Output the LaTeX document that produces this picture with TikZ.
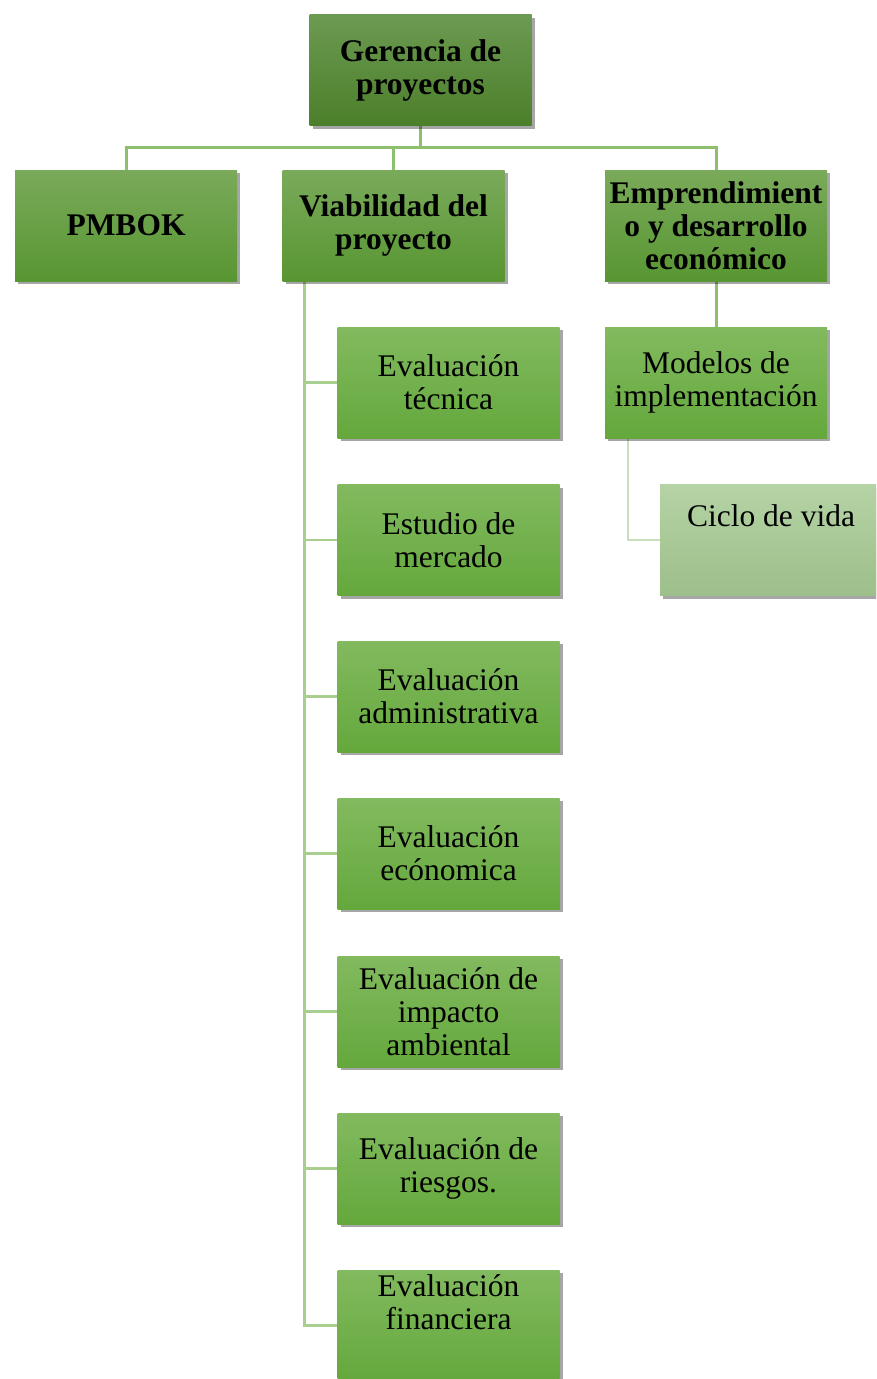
\documentclass[tikz,border=0pt]{standalone}
\usepackage{fontspec}
\setmainfont{Liberation Serif}
\usetikzlibrary{shadows,backgrounds}
\definecolor{topT}{HTML}{6C9A52}
\definecolor{topB}{HTML}{4C7F2A}
\definecolor{lvT}{HTML}{7AAA5A}
\definecolor{lvB}{HTML}{589632}
\definecolor{chT}{HTML}{82BA5F}
\definecolor{chB}{HTML}{64A83C}
\definecolor{ciT}{HTML}{B5D3A5}
\definecolor{ciB}{HTML}{9DBF8A}
\definecolor{lnA}{HTML}{8DBF6E}
\definecolor{lnB}{HTML}{A9CF8F}
\definecolor{lnC}{HTML}{CADFBE}
\tikzset{
  box/.style={draw=none, minimum width=222pt, minimum height=111pt, inner sep=0pt,
    align=center, font=\fontsize{31.5}{33}\selectfont,
    drop shadow={fill=black, opacity=0.35, shadow xshift=3pt, shadow yshift=-3pt}},
  topbox/.style={box, top color=topT, bottom color=topB, font=\fontsize{31.5}{33}\selectfont\bfseries},
  lvbox/.style={box, top color=lvT, bottom color=lvB, font=\fontsize{31.5}{33}\selectfont\bfseries},
  chbox/.style={box, top color=chT, bottom color=chB},
  cibox/.style={box, top color=ciT, bottom color=ciB},
  txt/.style={inner sep=0pt, align=center, font=\fontsize{31.5}{33}\selectfont},
  connA/.style={draw=lnA, line width=3pt},
  connB/.style={draw=lnB, line width=2.5pt},
  connC/.style={draw=lnC, line width=2.5pt}
}
\begin{document}
\begin{tikzpicture}[x=1pt,y=1pt]
\useasboundingbox (0,0) rectangle (876,-1379);
\clip (0,0) rectangle (876,-1379);
% nodes
\node[topbox] (top) at (420.5,-70) {Gerencia de\\proyectos};
\node[lvbox] (pmbok) at (126,-225.5) {PMBOK};
\node[lvbox] (viab) at (393.5,-225.5) {Viabilidad del\\proyecto};
\node[lvbox] (empr) at (716,-225.5) {Emprendimient\\o y desarrollo\\económico};
\node[chbox] (c1) at (448.5,-382.5) {Evaluación\\técnica};
\node[chbox] (c2) at (448.5,-540) {Estudio de\\mercado};
\node[chbox] (c3) at (448.5,-696.5) {Evaluación\\administrativa};
\node[chbox] (c4) at (448.5,-853.5) {Evaluación\\ecónomica};
\node[chbox] (c5) at (448.5,-1011.5) {Evaluación de\\impacto\\ambiental};
\node[chbox] (c6) at (448.5,-1168.5) {Evaluación de\\riesgos.};
\node[chbox] (c7) at (448.5,-1325.5) {};
\node[txt] (c7t) at (448.5,-1302) {Evaluación\\financiera};
\node[chbox] (mod) at (716,-382.5) {Modelos de\\implementación};
\node[cibox] (ciclo) at (771,-540) {};
\node[txt] (ciclot) at (771,-516) {Ciclo de vida};
% connector coordinates
\coordinate (bus) at ([yshift=-22pt]top.south);
\coordinate (vx) at ([xshift=22pt]viab.south west);
\coordinate (cx) at ([xshift=23pt]mod.south west);
\begin{scope}[on background layer]
\draw[connA] (top.south) -- (bus);
\draw[connA] (pmbok.north) |- (bus) -| (empr.north);
\draw[connA] (viab.north) -- (viab.north |- bus);
\draw[connB] (vx) |- (c1.west);
\draw[connB] (vx) |- (c2.west);
\draw[connB] (vx) |- (c3.west);
\draw[connB] (vx) |- (c4.west);
\draw[connB] (vx) |- (c5.west);
\draw[connB] (vx) |- (c6.west);
\draw[connB] (vx) |- (c7.west);
\draw[connA] (empr.south) -- (mod.north);
\draw[connC] (cx) |- (ciclo.west);
\end{scope}
\end{tikzpicture}
\end{document}
